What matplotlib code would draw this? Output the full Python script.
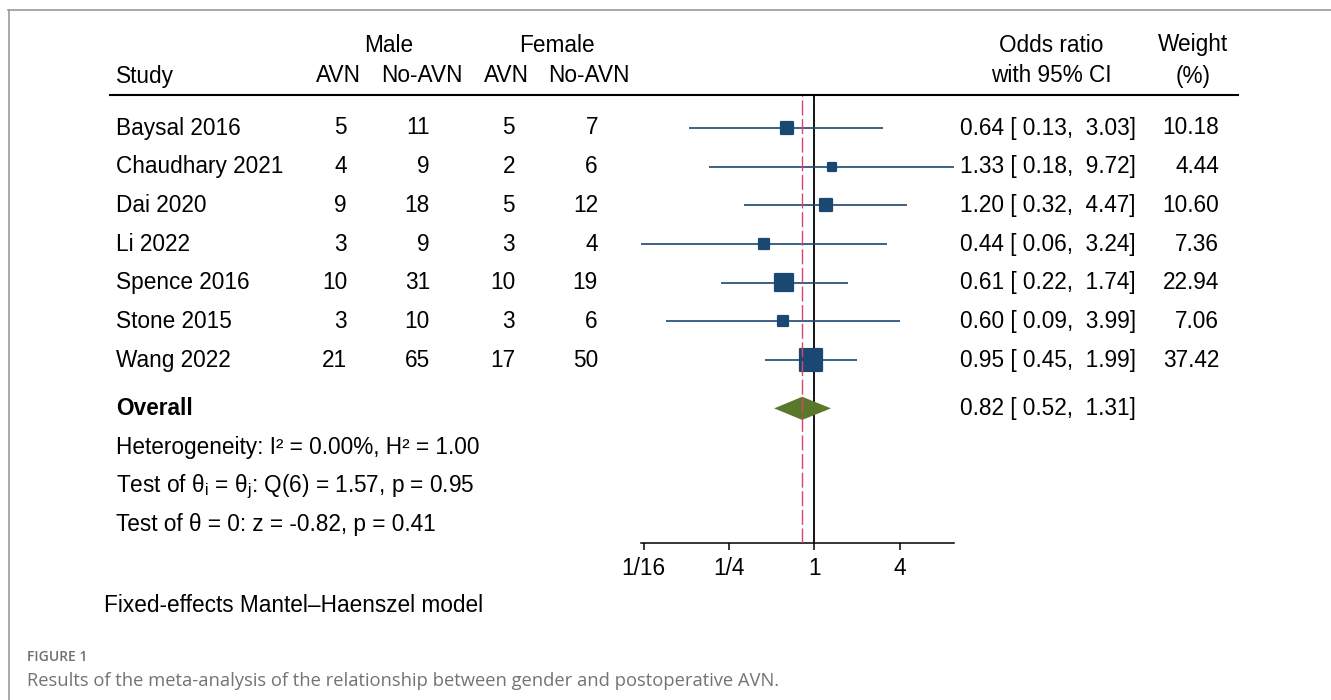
import numpy as np
import matplotlib
matplotlib.use("Agg")
import matplotlib.pyplot as plt
from matplotlib.lines import Line2D
from matplotlib.transforms import blended_transform_factory

# ---------------- data ----------------
studies = ["Baysal 2016", "Chaudhary 2021", "Dai 2020", "Li 2022",
           "Spence 2016", "Stone 2015", "Wang 2022"]
male_avn = [5, 4, 9, 3, 10, 3, 21]
male_noavn = [11, 9, 18, 9, 31, 10, 65]
female_avn = [5, 2, 5, 3, 10, 3, 17]
female_noavn = [7, 6, 12, 4, 19, 6, 50]
odds_ratio = [0.64, 1.33, 1.20, 0.44, 0.61, 0.60, 0.95]
ci_low = [0.13, 0.18, 0.32, 0.06, 0.22, 0.09, 0.45]
ci_high = [3.03, 9.72, 4.47, 3.24, 1.74, 3.99, 1.99]
weights = [10.18, 4.44, 10.60, 7.36, 22.94, 7.06, 37.42]
overall_or = 0.82
overall_low = 0.52
overall_high = 1.31
tick_values = [1/16, 1/4, 1, 4]
tick_labels = ["1/16", "1/4", "1", "4"]
stats_lines = [
    "Heterogeneity: I² = 0.00%, H² = 1.00",
    r"Test of θ$_\mathregular{i}$ = θ$_\mathregular{j}$: Q(6) = 1.57, p = 0.95",
    "Test of θ = 0: z = -0.82, p = 0.41",
]
model_note = "Fixed-effects Mantel–Haenszel model"
fig_label = "FIGURE 1"
fig_caption = "Results of the meta-analysis of the relationship between gender and postoperative AVN."

# ---------------- style ----------------
plt.rcParams['font.family'] = ['Liberation Sans', 'DejaVu Sans']
plt.rcParams['mathtext.fontset'] = 'custom'
plt.rcParams['mathtext.rm'] = 'Liberation Sans'
plt.rcParams['mathtext.it'] = 'Liberation Sans:italic'
FS = 16.3
NAVY = '#1b4873'
GREEN = '#5a782c'
RED = '#d8456a'

W, H = 1331, 700
fig = plt.figure(figsize=(W / 100, H / 100), dpi=100)

def fx(px):
    return px / W

def fy(py):
    return 1 - py / H

# frame lines (page border)
fig.add_artist(Line2D([fx(8), fx(1331)], [fy(9.5), fy(9.5)], color='#9a9a9a', lw=1.2,
                      transform=fig.transFigure))
fig.add_artist(Line2D([fx(8.5), fx(8.5)], [fy(9.5), fy(700)], color='#9a9a9a', lw=1.2,
                      transform=fig.transFigure))

# forest axes
ROW0, ROWSTEP = 128.0, 38.67
ax_top, ax_bot = 95.0, 542.7
ax_left, ax_right = 641.3, 954.3
ax = fig.add_axes([fx(ax_left), fy(ax_bot), fx(ax_right) - fx(ax_left), (ax_bot - ax_top) / H])
ax.set_xscale('log', base=2)
ax.set_xlim(min(ci_low), max(ci_high))
ax.set_ylim((ax_bot - ROW0) / ROWSTEP, (ax_top - ROW0) / ROWSTEP)
for s in ['top', 'right', 'left']:
    ax.spines[s].set_visible(False)
ax.spines['bottom'].set_linewidth(1.1)
ax.set_yticks([])
ax.set_xticks(tick_values)
ax.set_xticklabels(tick_labels, fontsize=FS)
ax.minorticks_off()
ax.tick_params(axis='x', length=5, width=1.1, pad=5)
ax.patch.set_alpha(0)

rows = np.arange(len(studies))
overall_row = len(studies) + 0.25

ax.axvline(1, color='black', lw=1.3, zorder=1)
ax.axvline(overall_or, color=RED, lw=1.0, ls=(0, (10.8, 2.6)), zorder=4)

ax.hlines(rows, ci_low, ci_high, color=NAVY, lw=1.2, zorder=2, clip_on=False)
ax.scatter(odds_ratio, rows, s=[7.0 * w for w in weights], marker='s', color=NAVY,
           edgecolor=NAVY, linewidths=1.6, zorder=3, clip_on=False)
ax.fill([overall_low, overall_or, overall_high, overall_or],
        [overall_row, overall_row - 0.30, overall_row, overall_row + 0.30],
        color=GREEN, lw=0, zorder=3)

# text columns
tr = blended_transform_factory(fig.transFigure, ax.transData)
for i, r in enumerate(rows):
    fig.text(fx(116), r, studies[i], transform=tr, fontsize=FS, va='center', ha='left')
    fig.text(fx(347), r, str(male_avn[i]), transform=tr, fontsize=FS, va='center', ha='right')
    fig.text(fx(430), r, str(male_noavn[i]), transform=tr, fontsize=FS, va='center', ha='right')
    fig.text(fx(515), r, str(female_avn[i]), transform=tr, fontsize=FS, va='center', ha='right')
    fig.text(fx(598), r, str(female_noavn[i]), transform=tr, fontsize=FS, va='center', ha='right')
    fig.text(fx(960), r, f"{odds_ratio[i]:.2f} [ {ci_low[i]:.2f},  {ci_high[i]:.2f}]",
             transform=tr, fontsize=FS, va='center', ha='left')
    fig.text(fx(1219), r, f"{weights[i]:.2f}", transform=tr, fontsize=FS, va='center', ha='right')

fig.text(fx(116), overall_row, "Overall", transform=tr, fontsize=FS, va='center',
         ha='left', fontweight='bold')
fig.text(fx(960), overall_row, f"{overall_or:.2f} [ {overall_low:.2f},  {overall_high:.2f}]",
         transform=tr, fontsize=FS, va='center', ha='left')
for k, line in enumerate(stats_lines):
    fig.text(fx(116), (446 + 38.7 * k + 7.8 - ROW0) / ROWSTEP, line, transform=tr,
             fontsize=FS, va='baseline', ha='left')

# headers
fig.text(fx(389), fy(45), "Male", fontsize=FS, ha='center', va='center')
fig.text(fx(557), fy(45), "Female", fontsize=FS, ha='center', va='center')
fig.text(fx(116), fy(76), "Study", fontsize=FS, ha='left', va='center')
for cx, lab in [(338.5, "AVN"), (422, "No-AVN"), (506, "AVN"), (589, "No-AVN")]:
    fig.text(fx(cx), fy(76), lab, fontsize=FS, ha='center', va='center')
fig.text(fx(1051), fy(45), "Odds ratio", fontsize=FS, ha='center', va='center')
fig.text(fx(1051), fy(76), "with 95% CI", fontsize=FS, ha='center', va='center')
fig.text(fx(1193), fy(45), "Weight", fontsize=FS, ha='center', va='center')
fig.text(fx(1193), fy(76), "(%)", fontsize=FS, ha='center', va='center')
fig.add_artist(Line2D([fx(110), fx(1238)], [fy(95), fy(95)], color='black', lw=1.5,
                      transform=fig.transFigure))

# notes and caption
fig.text(fx(104), fy(606), model_note, fontsize=FS, ha='left', va='center')
fig.text(fx(27), fy(657), fig_label, fontsize=10, ha='left', va='center', color='#707070',
         family=['Open Sans', 'DejaVu Sans'], fontweight='semibold')
fig.text(fx(27), fy(681), fig_caption, fontsize=13.2, ha='left', va='center', color='#737373',
         family=['Open Sans', 'DejaVu Sans'])

fig.savefig("out.png", dpi=100)
